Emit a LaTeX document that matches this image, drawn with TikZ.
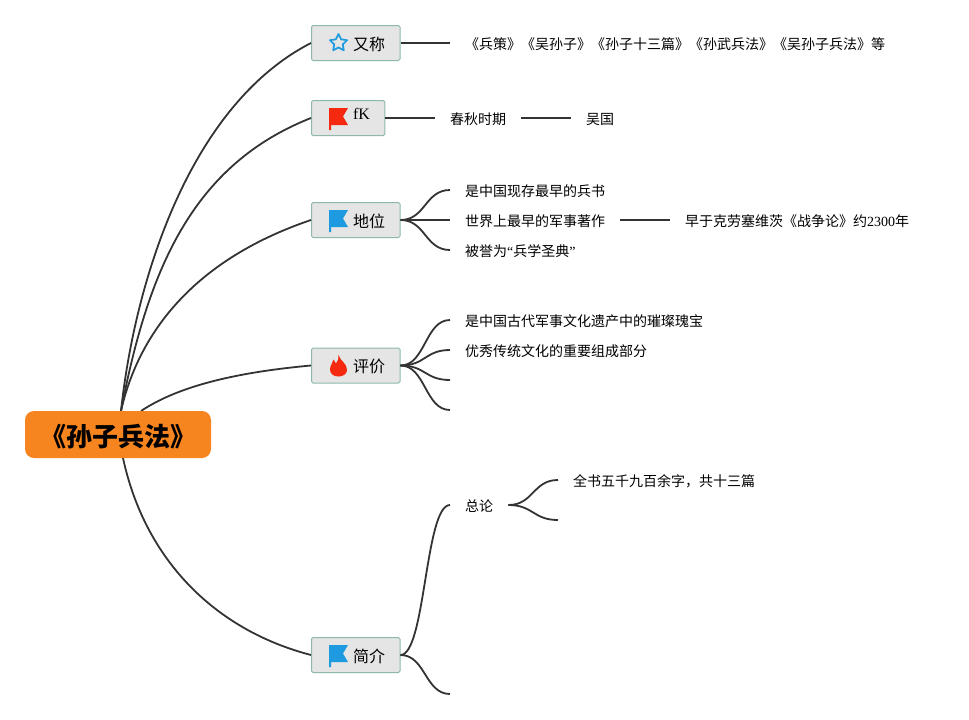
\documentclass[tikz,border=0pt]{standalone}
\usepackage{fontspec}
\setmainfont{Noto Sans CJK SC}
\newfontfamily\latinface{Liberation Serif}
\usetikzlibrary{calc,shapes.geometric}
\definecolor{rootfill}{HTML}{F7851F}
\definecolor{topicfill}{HTML}{E4E5E4}
\definecolor{topicline}{HTML}{8DB9AB}
\definecolor{flagblue}{HTML}{1E9BE0}
\definecolor{flagred}{HTML}{F5290F}
\definecolor{branchgray}{HTML}{333333}
\tikzset{
	rootnode/.style={fill=rootfill,rounded corners=9pt,minimum width=186pt,minimum height=47pt,text height=27pt,text depth=3pt,inner ysep=0pt,font=\fontsize{26}{30}\selectfont\bfseries},
	topic/.style={draw=topicline,fill=topicfill,line width=1pt,rounded corners=1.5pt,anchor=west,minimum height=35pt,inner xsep=15pt,inner ysep=0pt,text height=16.5pt,text depth=2.5pt,font=\fontsize{16}{19}\selectfont},
	leaf/.style={anchor=west,inner xsep=15pt,inner ysep=0pt,text height=14.5pt,text depth=2pt,font=\fontsize{14}{17}\selectfont},
	branch/.style={draw=branchgray,line width=1.8pt},
	sbranch/.style={out=0,in=180,distance=25pt}
}
\def\flagicon[#1](#2){\fill[#1] ($(#2)+(18,-10)$) -- ++(19,0) -- ++(-5,8.5) -- ++(5,8.5) -- ++(-17,0) -- ++(0,5) -- ++(-2,0) -- cycle;}
\begin{document}
\begin{tikzpicture}[x=1pt,y=-1pt]
	%%%%% START %%%%%
	\useasboundingbox (0,0) rectangle (969,720);
	
	\coordinate (roottop) at (121,411);
	\coordinate (rootside) at (141,411);
	\coordinate (rootbottom) at (123,458);
	
	\node[topic] (alias) at (311,43) {\hspace*{26.5pt}又称};
	\node[topic] (era) at (311,118) {\hspace*{26.5pt}\raisebox{5.5pt}{\latinface fK}};
	\node[topic] (rank) at (311,220) {\hspace*{26.5pt}地位};
	\node[topic] (review) at (311,365.5) {\hspace*{26.5pt}评价};
	\node[topic] (intro) at (311,655) {\hspace*{26.5pt}简介};
	
	\node[leaf] (aliaslist) at (450,43) {《兵策》《吴孙子》《孙子十三篇》《孙武兵法》《吴孙子兵法》等};
	\node[leaf] (spring) at (435,118) {春秋时期};
	\node[leaf] (wu) at (571,118) {吴国};
	\node[leaf] (oldest) at (450,190) {是中国现存最早的兵书};
	\node[leaf] (first) at (450,220) {世界上最早的军事著作};
	\node[leaf] (clausewitz) at (670,220) {早于克劳塞维茨《战争论》约{\latinface 2300}年};
	\node[leaf] (canon) at (450,250) {被誉为{\latinface “}兵学圣典{\latinface ”}};
	\node[leaf] (gem) at (450,320) {是中国古代军事文化遗产中的璀璨瑰宝};
	\node[leaf] (part) at (450,350) {优秀传统文化的重要组成部分};
	\coordinate (reviewa) at (450,380);
	\coordinate (reviewb) at (450,410);
	\node[leaf] (general) at (450,505) {总论};
	\node[leaf] (words) at (558,480) {全书五千九百余字，共十三篇};
	\coordinate (generalb) at (558,520);
	\coordinate (introb) at (450,694);
	
	% root to topics
	\draw[branch] (roottop) .. controls (135,280) and (190,105) .. (alias.west);
	\draw[branch] (roottop) .. controls (148,270) and (192,165) .. (era.west);
	\draw[branch] (roottop) .. controls (137,340) and (187,262) .. (rank.west);
	\draw[branch] (rootside) .. controls (180,385) and (240,372) .. (review.west);
	\draw[branch] (rootbottom) .. controls (145,560) and (215,630) .. (intro.west);
	
	\node[rootnode] (root) at (118,434.5) {《孙子兵法》};
	
	% topics to leaves
	\draw[branch] (alias.east) -- (aliaslist.west);
	\draw[branch] (era.east) -- (spring.west);
	\draw[branch] (spring.east) -- (wu.west);
	\draw[branch] (rank.east) to[sbranch] (oldest.west);
	\draw[branch] (rank.east) -- (first.west);
	\draw[branch] (first.east) -- (clausewitz.west);
	\draw[branch] (rank.east) to[sbranch] (canon.west);
	\draw[branch] (review.east) to[sbranch] (gem.west);
	\draw[branch] (review.east) to[sbranch] (part.west);
	\draw[branch] (review.east) to[sbranch] (reviewa);
	\draw[branch] (review.east) to[sbranch] (reviewb);
	\draw[branch] (intro.east) to[sbranch] (general.west);
	\draw[branch] (intro.east) to[sbranch] (introb);
	\draw[branch] (general.east) to[sbranch] (words.west);
	\draw[branch] (general.east) to[sbranch] (generalb);
	
	% icons
	\node[star,star points=5,star point ratio=2,draw=flagblue,line width=1.7pt,line join=round,minimum size=18pt,inner sep=0pt] (staricon) at ($(alias.west)+(27.5,0)$) {};
	\flagicon[flagred](era.west);
	\flagicon[flagblue](rank.west);
	\flagicon[flagblue](intro.west);
	\fill[flagred] (338.5,355) .. controls (340,361) and (347,363) .. (347,370) .. controls (347,374) and (343,376.5) .. (338.5,376.5) .. controls (334,376.5) and (330,374) .. (330,369.5) .. controls (330,365) and (333,363) .. (333.5,359.5) .. controls (335,361) and (335.5,362) .. (336,363.5) .. controls (338,361) and (339,358) .. (338.5,355) -- cycle;
	%%%%% END %%%%%
\end{tikzpicture}
\end{document}
